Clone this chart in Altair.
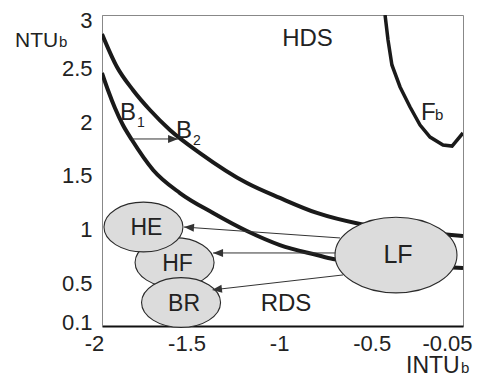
import math
import altair as alt
import pandas as pd

# ---------------- data ----------------
x_ticks = [-2, -1.5, -1, -0.5, -0.05]
y_ticks = [0.1, 0.5, 1, 1.5, 2, 2.5, 3]

# boundary B2 (upper thick curve)
b2_x = [-2.000, -1.919, -1.833, -1.741, -1.633, -1.471, -1.217, -1.039, -0.839, -0.606, -0.336, -0.050]
b2_y = [2.823, 2.515, 2.301, 2.114, 1.928, 1.713, 1.433, 1.294, 1.154, 1.051, 0.986, 0.939]
# boundary B1 (lower thick curve)
b1_x = [-2.000, -1.968, -1.930, -1.887, -1.838, -1.724, -1.579, -1.400, -1.217, -1.039, -0.839, -0.752, -0.390, -0.050]
b1_y = [2.459, 2.301, 2.133, 1.974, 1.834, 1.555, 1.340, 1.154, 0.986, 0.855, 0.762, 0.725, 0.669, 0.641]
# boundary Fb
fb_x = [-0.471, -0.455, -0.434, -0.390, -0.336, -0.282, -0.228, -0.158, -0.109, -0.050]
fb_y = [3.000, 2.767, 2.534, 2.329, 2.142, 1.974, 1.862, 1.788, 1.778, 1.900]

# regions drawn as ellipses (HF first so HE and BR overlap it)
region_names = ["HF", "HE", "BR"]
region_x = [-1.608, -1.776, -1.573]
region_y = [0.692, 1.023, 0.319]
lf_name = ["LF"]
lf_x = [-0.412]
lf_y = [0.762]

# arrows (start -> tip)
arrow_x1 = [-1.838, -0.714, -0.736, -0.698]
arrow_y1 = [1.844, 0.921, 0.781, 0.576]
arrow_x2 = [-1.589, -1.557, -1.400, -1.406]
arrow_y2 = [1.844, 1.023, 0.781, 0.436]

zone_labels = ["HDS", "RDS"]
zone_x = [-0.890, -1.006]
zone_y = [2.776, 0.305]

b_labels = ["B", "B"]
b_subs = ["1", "2"]
b_lx = [-1.903, -1.600]
b_ly = [2.021, 1.853]
f_label = ["F"]
f_sub = ["b"]
f_lx = [-0.277]
f_ly = [2.021]

# ---------------- chart ----------------
W, H = 361, 311
XD = [-2, -0.05]
YD = [0.1, 3]
kx = W / (XD[1] - XD[0])
ky = H / (YD[1] - YD[0])
FONT = "Liberation Sans"
INK = "#1a1a1a"

xs = alt.Scale(domain=XD, nice=False, zero=False)
ys = alt.Scale(domain=YD, nice=False, zero=False)
xaxis = alt.Axis(values=x_ticks, title=None, ticks=False, grid=False,
                 domainColor="#111", domainWidth=2,
                 labelFont=FONT, labelFontSize=22, labelColor="#222",
                 labelPadding=7, labelFlush=False, labelOverlap=False,
                 labelExpr="'' + datum.value",
                 labelOffset={"condition": {"test": "datum.value > -0.1", "value": -16}, "value": -8})
yaxis = alt.Axis(values=y_ticks, title=None, ticks=False, grid=False,
                 domainColor="#888", domainWidth=1,
                 labelFont=FONT, labelFontSize=22, labelColor="#222",
                 labelPadding=10, labelFlush=False, labelOverlap=False,
                 labelExpr="'' + datum.value",
                 labelOffset={"condition": [{"test": "datum.value >= 3", "value": 5},
                                            {"test": "datum.value < 0.2", "value": -4}], "value": 0})


def X(f):
    return alt.X(f, type="quantitative", scale=xs, axis=xaxis)


def Y(f):
    return alt.Y(f, type="quantitative", scale=ys, axis=yaxis)


def curve(xv, yv, width, interp):
    df = pd.DataFrame({"x": xv, "y": yv, "o": range(len(xv))})
    return alt.Chart(df).mark_line(color=INK, strokeWidth=width, interpolate=interp,
                                   strokeCap="butt", clip=True).encode(
        x=X("x"), y=Y("y"), order="o:Q")


layers = [
    curve(b2_x, b2_y, 4, "monotone"),
    curve(b1_x, b1_y, 4, "monotone"),
    curve(fb_x, fb_y, 3.5, "linear"),
]

arrows = pd.DataFrame({"x": arrow_x1, "y": arrow_y1, "x2": arrow_x2, "y2": arrow_y2})
layers.append(alt.Chart(arrows).mark_rule(color="#333", strokeWidth=1).encode(
    x=X("x"), y=Y("y"), x2="x2", y2="y2"))

ELL_S = "M-1,0A1,0.63,0,1,1,1,0A1,0.63,0,1,1,-1,0Z"
ELL_L = "M-1,0A1,0.62,0,1,1,1,0A1,0.62,0,1,1,-1,0Z"
regions = pd.DataFrame({"name": region_names, "x": region_x, "y": region_y})
lf = pd.DataFrame({"name": lf_name, "x": lf_x, "y": lf_y})
layers.append(alt.Chart(regions).mark_point(shape=ELL_S, size=79 * 79, filled=True, fill="#dcdcdc",
                                            fillOpacity=1, opacity=1, stroke="#2a2a2a",
                                            strokeWidth=1.1).encode(x=X("x"), y=Y("y")))
layers.append(alt.Chart(lf).mark_point(shape=ELL_L, size=122 * 122, filled=True, fill="#dcdcdc",
                                       fillOpacity=1, opacity=1, stroke="#2a2a2a",
                                       strokeWidth=1.1).encode(x=X("x"), y=Y("y")))
layers.append(alt.Chart(regions).mark_text(font=FONT, fontSize=23, color="#222", dx=3, dy=1,
                                           baseline="middle").encode(
    x=X("x"), y=Y("y"), text="name:N"))
layers.append(alt.Chart(lf).mark_text(font=FONT, fontSize=25, color="#222", dx=2,
                                      baseline="middle").encode(
    x=X("x"), y=Y("y"), text="name:N"))

# arrow heads, oriented along each arrow
HEAD = "M1,0L-1,-0.8L-1,0.8Z"
for x1, y1, x2, y2 in zip(arrow_x1, arrow_y1, arrow_x2, arrow_y2):
    dxp = (x2 - x1) * kx
    dyp = -(y2 - y1) * ky
    a = math.atan2(dyp, dxp)
    ang = math.degrees(a) % 360
    head = pd.DataFrame({"x": [x2], "y": [y2]})
    layers.append(alt.Chart(head).mark_point(shape=HEAD, size=100, angle=ang, filled=True,
                                             fill="#333", opacity=1, strokeWidth=0,
                                             xOffset=-5 * math.cos(a), yOffset=-5 * math.sin(a)).encode(
        x=X("x"), y=Y("y")))

zones = pd.DataFrame({"t": zone_labels, "x": zone_x, "y": zone_y})
layers.append(alt.Chart(zones).mark_text(font=FONT, fontSize=24, color="#222", baseline="middle").encode(
    x=X("x"), y=Y("y"), text="t:N"))

bl = pd.DataFrame({"t": b_labels, "s": b_subs, "x": b_lx, "y": b_ly})
layers.append(alt.Chart(bl).mark_text(font=FONT, fontSize=24, color="#222", align="left",
                                      baseline="alphabetic").encode(x=X("x"), y=Y("y"), text="t:N"))
layers.append(alt.Chart(bl).mark_text(font=FONT, fontSize=14, color="#222", align="left",
                                      baseline="alphabetic", dx=17, dy=7).encode(
    x=X("x"), y=Y("y"), text="s:N"))
fl = pd.DataFrame({"t": f_label, "s": f_sub, "x": f_lx, "y": f_ly})
layers.append(alt.Chart(fl).mark_text(font=FONT, fontSize=24, color="#222", align="left",
                                      baseline="alphabetic").encode(x=X("x"), y=Y("y"), text="t:N"))
layers.append(alt.Chart(fl).mark_text(font=FONT, fontSize=15, color="#222", align="left",
                                      baseline="alphabetic", dx=14).encode(
    x=X("x"), y=Y("y"), text="s:N"))

# axis titles with subscript b
layers.append(alt.Chart(pd.DataFrame({"t": ["NTU"]})).mark_text(
    font=FONT, fontSize=21, color="#222", align="left", baseline="alphabetic").encode(
    x=alt.value(-87), y=alt.value(32), text="t:N"))
layers.append(alt.Chart(pd.DataFrame({"t": ["b"]})).mark_text(
    font=FONT, fontSize=15, color="#222", align="left", baseline="alphabetic").encode(
    x=alt.value(-43), y=alt.value(32), text="t:N"))
layers.append(alt.Chart(pd.DataFrame({"t": ["INTU"]})).mark_text(
    font=FONT, fontSize=23, color="#222", align="left", baseline="alphabetic").encode(
    x=alt.value(304), y=alt.value(358), text="t:N"))
layers.append(alt.Chart(pd.DataFrame({"t": ["b"]})).mark_text(
    font=FONT, fontSize=15, color="#222", align="left", baseline="alphabetic").encode(
    x=alt.value(359), y=alt.value(358), text="t:N"))

chart = alt.layer(*layers).properties(
    width=W, height=H,
    autosize=alt.AutoSizeParams(type="none"),
    padding={"left": 94, "top": 7, "right": 12, "bottom": 50},
    background="white",
).configure_view(stroke="#888", strokeWidth=1)

chart.save("out.html", embed_options={"renderer": "svg", "actions": False})
